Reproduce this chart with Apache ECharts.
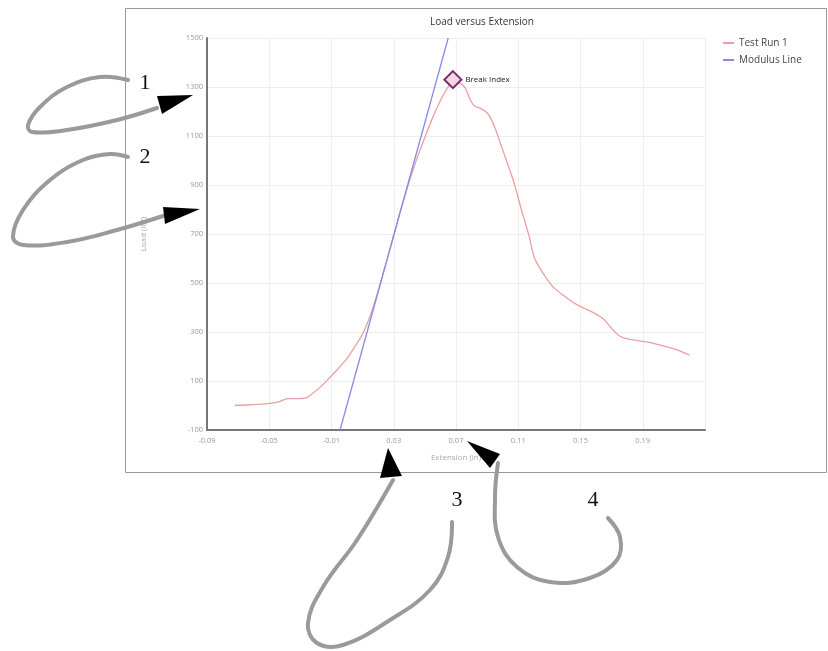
<!DOCTYPE html>
<html>
<head>
<meta charset="utf-8">
<script src="https://cdn.jsdelivr.net/npm/echarts@6/dist/echarts.min.js"></script>
<style>html,body{margin:0;padding:0;background:#fff}#c{width:828px;height:651px}</style>
</head>
<body>
<div id="c"></div>
<script>
// ---- data ----
const extension = [-0.072,-0.062,-0.051,-0.044,-0.038,-0.032,-0.027,-0.022,-0.017,-0.012,-0.006,0.000,0.004,0.010,0.015,0.020,0.025,0.030,0.035,0.040,0.045,0.050,0.055,0.060,0.064,0.068,0.072,0.076,0.079,0.082,0.086,0.090,0.094,0.098,0.103,0.107,0.112,0.117,0.120,0.123,0.128,0.133,0.140,0.146,0.152,0.158,0.164,0.168,0.171,0.176,0.182,0.190,0.197,0.205,0.212,0.220];
const load = [0,3,8,15,28,28,30,50,76,108,148,192,230,292,368,468,580,695,810,915,1010,1095,1175,1245,1290,1322,1318,1295,1250,1222,1212,1195,1150,1080,990,915,800,690,610,570,520,480,445,418,398,380,357,330,308,280,270,262,254,240,227,206];
const modulusX = [-0.0045, 0.065];
const modulusY = [-100, 1500];
const peakPoint = [0.068, 1330];
const peakLabel = 'Break Index';
const xTicks = {min: -0.09, max: 0.23, step: 0.04};
const yTicks = {min: -100, max: 1500, step: 200};
const seriesNames = ['Test Run 1', 'Modulus Line'];
const titleText = 'Load versus Extension';
const xName = 'Extension (in)';
const yName = 'Load (lbf)';
const noteLabels = ['1','2','3','4'];

const chart = echarts.init(document.getElementById('c'), null, {renderer:'canvas'});
const font = 'Open Sans, Noto Sans, sans-serif';
const squig = {stroke:'#9a9a9a', lineWidth:4, fill:null, lineCap:'round', lineJoin:'round'};
function squiggle(pts){return {type:'polyline', shape:{points:pts, smooth:0.4}, style:squig, z:100};}
function tri(pts){return {type:'polygon', shape:{points:pts}, style:{fill:'#000'}, z:101};}
function num(t,x,y){return {type:'text', x:x, y:y, style:{text:t, font:'22px "Liberation Serif", "DejaVu Serif", serif', fill:'#111', textAlign:'center', textVerticalAlign:'middle'}, z:101};}

chart.setOption({
  animation:false,
  title:{text:titleText, left:477, top:12, textAlign:'center', textStyle:{fontSize:10, fontWeight:'normal', color:'#333', fontFamily:font}},
  legend:{orient:'vertical', left:718, top:33, itemWidth:11, itemHeight:2, itemGap:7, icon:'rect',
    textStyle:{fontSize:10, color:'#444', fontFamily:font}, data:seriesNames},
  grid:{left:207, top:38, right:123, bottom:221, containLabel:false},
  xAxis:{type:'value', min:xTicks.min, max:xTicks.max, interval:xTicks.step,
    name:xName, nameLocation:'middle', nameGap:24, nameTextStyle:{fontSize:8, color:'#aaa', fontFamily:font},
    axisLine:{onZero:false, lineStyle:{color:'#777', width:2}}, axisTick:{show:false},
    axisLabel:{fontSize:7.5, color:'#999', margin:7, fontFamily:font, formatter:v=>(+v).toFixed(2), showMaxLabel:false},
    splitLine:{show:true, lineStyle:{color:'#eee', width:1}}},
  yAxis:{type:'value', min:yTicks.min, max:yTicks.max, interval:yTicks.step,
    name:yName, nameLocation:'middle', nameGap:59, nameTextStyle:{fontSize:8, color:'#aaa', fontFamily:font},
    axisLine:{show:true, onZero:false, lineStyle:{color:'#777', width:2}}, axisTick:{show:false},
    axisLabel:{fontSize:7.5, color:'#999', margin:4, fontFamily:font, formatter:v=>String(Math.round(v))},
    splitLine:{show:true, lineStyle:{color:'#eee', width:1}}},
  series:[
    {name:seriesNames[0], type:'line', showSymbol:false, symbol:'none', smooth:0.3,
     data:extension.map((x,i)=>[x, load[i]]), lineStyle:{color:'#e8a0a0', width:1.3}, itemStyle:{color:'#e8a0a0'},
     markPoint:{symbol:'diamond', symbolSize:[17,17],
       itemStyle:{color:'#f3d6e6', borderColor:'#7a2a6a', borderWidth:2},
       label:{show:true, position:'right', formatter:peakLabel, fontSize:8, color:'#222', distance:3, fontFamily:font},
       data:[{coord:peakPoint}]}},
    {name:seriesNames[1], type:'line', showSymbol:false, symbol:'none',
     data:modulusX.map((x,i)=>[x, modulusY[i]]), lineStyle:{color:'#8a8ae6', width:1.3}, itemStyle:{color:'#8a8ae6'}}
  ],
  graphic:[
    {type:'rect', shape:{x:125.5, y:8.5, width:701, height:464}, style:{fill:null, stroke:'#999', lineWidth:1}, z:0, silent:true},
    squiggle([[128,80],[100,77],[67,87],[40,107],[28,125],[32,132],[67,130],[117,120],[157,108]]),
    squiggle([[128,157],[110,154],[83,160],[50,180],[23,210],[13,237],[23,245],[67,242],[117,230],[163,216]]),
    squiggle([[393,480],[357,540],[323,587],[308,623],[317,643],[343,645],[390,620],[430,590],[448,557],[452,522]]),
    squiggle([[498,463],[495,497],[498,537],[517,567],[550,582],[590,578],[617,560],[620,537],[608,518]]),
    tri([[157,96],[193,95],[162,114]]),
    tri([[163,207],[200,209],[165,224]]),
    tri([[388,448],[380,478],[402,476]]),
    tri([[467,441],[500,454],[490,468]]),
    num(noteLabels[0],145,83), num(noteLabels[1],145,157), num(noteLabels[2],457,500), num(noteLabels[3],593,500)
  ]
});
</script>
</body>
</html>
